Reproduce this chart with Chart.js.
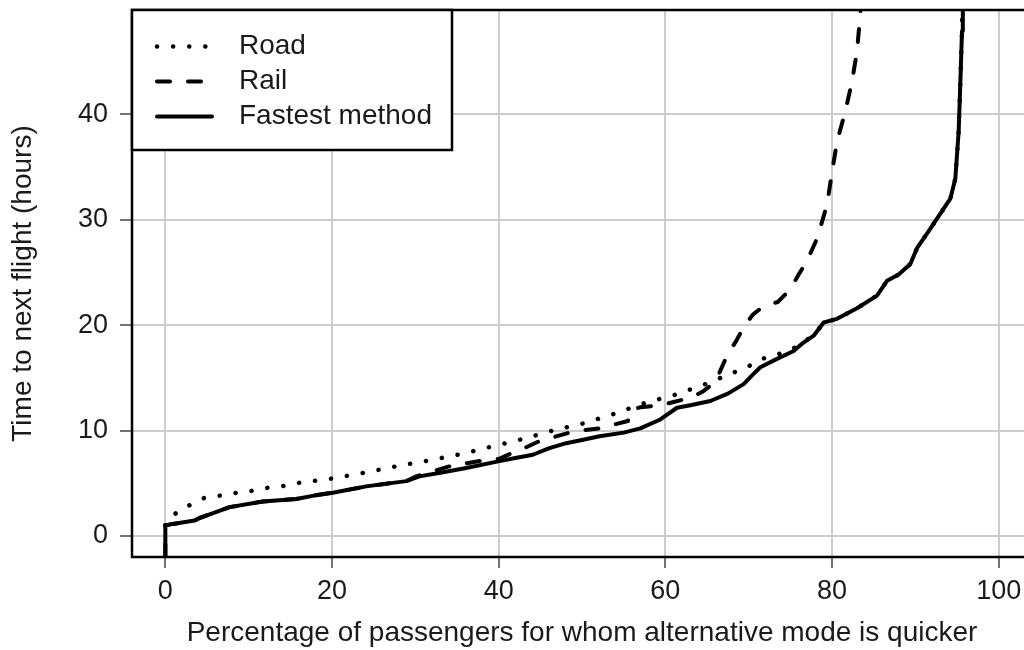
<!DOCTYPE html>
<html>
<head>
<meta charset="utf-8">
<script src="https://cdn.jsdelivr.net/npm/chart.js@4"></script>
<style>
html, body { margin:0; padding:0; overflow:hidden; background:#fff; }
#wrap { position:absolute; left:0; top:0; width:1032px; height:650px; }
</style>
</head>
<body>
<div id="wrap"><canvas id="chart"></canvas></div>
<script>
var seriesNames = ["Road", "Rail", "Fastest method"];
var xTitle = "Percentage of passengers for whom alternative mode is quicker";
var yTitle = "Time to next flight (hours)";

var roadX = [0, 0.1, 1.4, 3.1, 4.8, 6.7, 8.6, 10.6, 12.5, 14.4, 16.3, 18.3, 20.1, 24.1, 28.1, 31.7, 35.7, 39.3, 42.9, 46.5, 50.3, 53.9, 57.5, 61.2, 64.8, 68.2, 70, 71.6, 73.4, 75.4, 76.5, 77.8, 79.0, 80.6, 83, 85.4, 86.6, 88, 89.4, 90.2, 91.5, 92.6, 94.2, 94.8, 95.2, 95.4, 95.6, 95.7];
var roadY = [1.0, 1.3, 2.25, 3.0, 3.65, 3.84, 4.1, 4.3, 4.6, 4.76, 5.08, 5.27, 5.46, 6.03, 6.67, 7.17, 7.8, 8.5, 9.2, 10.0, 10.7, 11.6, 12.6, 13.4, 14.4, 15.5, 16.1, 16.8, 17.2, 17.8, 18.4, 19.0, 20.25, 20.6, 21.6, 22.8, 24.2, 24.8, 25.8, 27.3, 28.8, 30.1, 32.0, 33.9, 38.4, 43, 47.9, 55];

var railX = [0, 0, 0.9, 3.5, 4.1, 5.5, 7.7, 11.7, 15.7, 18, 20.1, 24.1, 28.9, 30.1, 32, 34.1, 37.7, 40, 41.7, 43, 44.9, 48.5, 50, 52.5, 54, 55.5, 56, 57, 59.4, 61, 63, 64.5, 65.8, 66.5, 67.4, 68.5, 69.4, 70.5, 71.8, 73.5, 75, 76, 77, 78.2, 79.4, 80, 80.6, 81.6, 82.4, 83, 83.4, 83.7];
var railY = [-2, 1.0, 1.14, 1.46, 1.7, 2.1, 2.73, 3.27, 3.5, 3.85, 4.1, 4.7, 5.2, 5.65, 6.1, 6.6, 7.1, 7.3, 7.9, 8.3, 9.0, 9.8, 10.0, 10.25, 10.6, 10.9, 12.0, 12.2, 12.4, 12.7, 13.1, 13.7, 14.5, 15.5, 17.1, 18.5, 19.8, 21.0, 21.8, 22.2, 23.4, 24.8, 26.1, 28.2, 31.4, 34.5, 37.4, 40.3, 43.1, 46, 49.5, 55];

var fastX = [0, 0, 0.9, 3.5, 4.1, 5.5, 7.7, 11.7, 15.7, 18, 20.1, 24.1, 28.9, 30.5, 33, 36.1, 40.1, 42, 44.1, 46, 48.1, 50, 52.1, 55, 57, 59.4, 61.4, 63, 65.4, 67.5, 69.4, 70.5, 71.4, 73.4, 75.4, 76.5, 77.8, 79.0, 80.6, 83, 85.4, 86.6, 88, 89.4, 90.2, 91.5, 92.6, 94.2, 94.8, 95.2, 95.4, 95.6, 95.7];
var fastY = [-2, 1.0, 1.14, 1.46, 1.7, 2.1, 2.73, 3.27, 3.5, 3.85, 4.1, 4.7, 5.2, 5.65, 6.0, 6.45, 7.1, 7.4, 7.7, 8.3, 8.8, 9.1, 9.45, 9.8, 10.2, 11.05, 12.16, 12.4, 12.8, 13.5, 14.4, 15.3, 16.0, 16.8, 17.55, 18.3, 19.0, 20.25, 20.6, 21.6, 22.8, 24.2, 24.8, 25.8, 27.3, 28.8, 30.1, 32.0, 33.9, 38.4, 43, 47.9, 55];

var fontFam = '"Liberation Sans", Arial, sans-serif';
var textCol = '#1a1a1a';

function pts(xs, ys) {
    return xs.map(function (x, i) { return {x: x, y: ys[i]}; });
}

// plot box + legend drawn like the R base graphics
var framePlugin = {
    id: 'frame',
    afterDatasetsDraw: function (chart) {
        var a = chart.chartArea, ctx = chart.ctx;
        ctx.save();
        ctx.lineWidth = 2.5;
        ctx.strokeStyle = '#000';
        ctx.strokeRect(a.left, a.top, a.right - a.left, a.bottom - a.top);

        var bx = a.left, by = a.top, bw = 320, bh = 140;
        ctx.fillStyle = '#fff';
        ctx.fillRect(bx, by, bw, bh);
        ctx.strokeRect(bx, by, bw, bh);
        chart.data.datasets.forEach(function (ds, i) {
            var y = by + 36.5 + i * 35;
            ctx.beginPath();
            ctx.setLineDash(ds.borderDash || []);
            ctx.lineCap = 'round';
            ctx.lineWidth = ds.borderWidth;
            ctx.strokeStyle = ds.borderColor;
            ctx.moveTo(bx + 25, y);
            ctx.lineTo(bx + 80, y);
            ctx.stroke();
            ctx.setLineDash([]);
            ctx.fillStyle = textCol;
            ctx.font = '28px ' + fontFam;
            ctx.textBaseline = 'middle';
            ctx.fillText(ds.label, bx + 107, y);
        });
        ctx.restore();
    }
};

var ctx = document.getElementById('chart').getContext('2d');
var chart = new Chart(ctx, {
    type: 'scatter',
    data: {
        datasets: [{
            label: seriesNames[0],
            data: pts(roadX, roadY),
            showLine: true,
            borderColor: '#000',
            borderWidth: 4.5,
            borderDash: [0.1, 16],
            borderCapStyle: 'round',
            order: 2
        }, {
            label: seriesNames[1],
            data: pts(railX, railY),
            showLine: true,
            borderColor: '#000',
            borderWidth: 4,
            borderDash: [13, 18],
            borderCapStyle: 'round',
            order: 1
        }, {
            label: seriesNames[2],
            data: pts(fastX, fastY),
            showLine: true,
            borderColor: '#000',
            borderWidth: 4,
            borderCapStyle: 'round',
            borderJoinStyle: 'round',
            order: 0
        }]
    },
    options: {
        responsive: true,
        maintainAspectRatio: false,
        animation: false,
        layout: {padding: {top: 10, right: 0, bottom: 0, left: 0}},
        elements: {point: {radius: 0, hoverRadius: 0}, line: {tension: 0, fill: false}},
        plugins: {legend: {display: false}, tooltip: {enabled: false}},
        scales: {
            x: {
                type: 'linear',
                min: -4,
                max: 104,
                ticks: {stepSize: 20, includeBounds: false, padding: 7, color: textCol, font: {family: fontFam, size: 27}},
                grid: {color: '#cccccc', lineWidth: 2, tickLength: 11, tickColor: '#444', tickWidth: 1.5},
                border: {display: false},
                title: {display: true, text: xTitle, color: textCol, padding: {top: 0, bottom: 0}, font: {family: fontFam, size: 28}},
                afterFit: function (s) {
                    s.height = 93;
                    s.paddingLeft = 0;
                    s.paddingRight = 0;
                }
            },
            y: {
                type: 'linear',
                min: -2,
                max: 49.9,
                ticks: {stepSize: 10, includeBounds: false, padding: 12, color: textCol, font: {family: fontFam, size: 27}},
                grid: {color: '#cccccc', lineWidth: 2, tickLength: 12, tickColor: '#444', tickWidth: 1.5},
                border: {display: false},
                title: {display: true, text: yTitle, color: textCol, padding: {top: 6.5, bottom: 0}, font: {family: fontFam, size: 28}},
                afterFit: function (s) {
                    s.width = 132;
                    s.paddingTop = 0;
                    s.paddingBottom = 0;
                }
            }
        }
    },
    plugins: [framePlugin]
});
</script>
</body>
</html>
